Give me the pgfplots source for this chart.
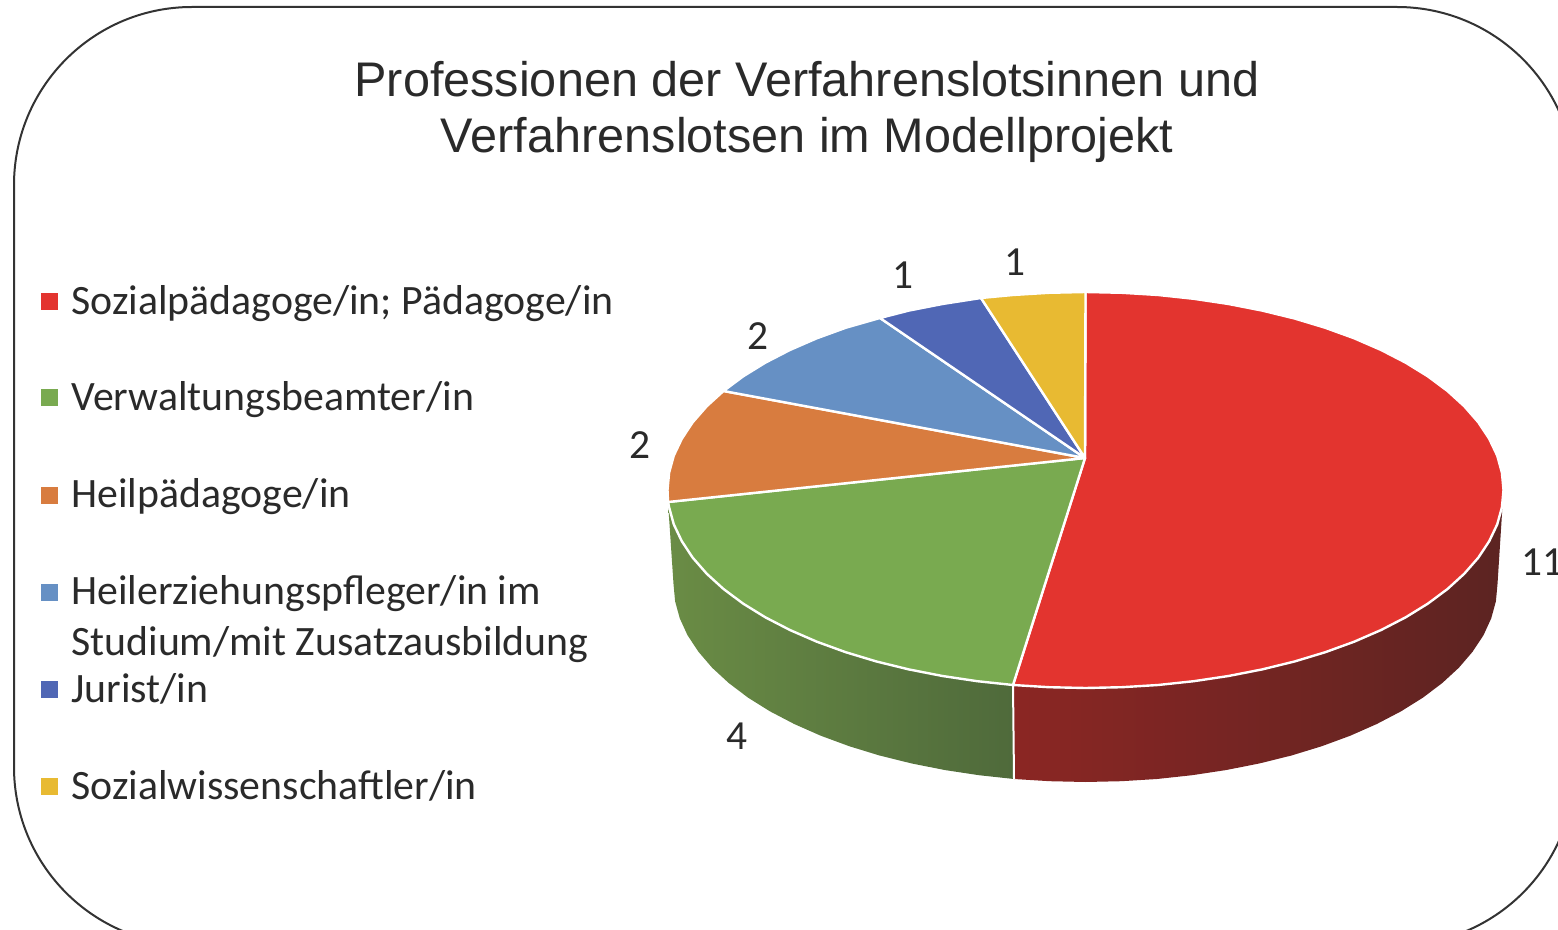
\documentclass[border=0pt]{standalone}
\usepackage{fontspec}
\setmainfont{Liberation Sans}
\newfontfamily\calib{Carlito}
\usepackage{pgfplots}
\pgfplotsset{compat=1.18}

\definecolor{cRed}{HTML}{E3342F}
\definecolor{cGreen}{HTML}{79AA50}
\definecolor{cOrange}{HTML}{D87C3F}
\definecolor{cLBlue}{HTML}{6690C4}
\definecolor{cDBlue}{HTML}{5067B5}
\definecolor{cYellow}{HTML}{E8BA32}
\definecolor{cText}{HTML}{2A2A2A}
\definecolor{wallGa}{RGB}{106,140,69}
\definecolor{wallGb}{RGB}{108,140,72}
\definecolor{wallGc}{RGB}{79,106,59}
\definecolor{wallRa}{RGB}{139,38,35}
\definecolor{wallRb}{RGB}{98,36,35}
\definecolor{wallRc}{RGB}{92,36,34}

% all coordinates are pixels of the reference, 1 px = 0.5 pt
\begin{document}
\begin{tikzpicture}
\begin{axis}[
  scale only axis, width=779pt, height=465pt,
  xmin=0, xmax=1558, ymin=0, ymax=930, y dir=reverse,
  hide axis, clip=true, clip mode=global,
]
% frame, runs off the page at right and bottom
\draw[color=black!80, line width=1pt, rounded corners=89pt]
  (axis cs:14,7) rectangle (axis cs:1575,945);

% side walls
\addplot[draw=none, left color=wallGa, middle color=wallGb, right color=wallGc]
  coordinates {(668,502)(669.1,507.3)(673.8,524.4)(681.8,541.2)(692.7,557.7)(706.7,573.7)(723.5,589)(743.1,603.6)(765.3,617.3)(789.9,630)(816.8,641.7)(845.7,652.2)(876.5,661.5)(908.8,669.4)(942.5,676)(977.3,681.2)(1013,685)
  (1014,779)(978.9,775.2)(944.6,770)(911.4,763.4)(879.5,755.5)(849.2,746.2)(820.7,735.7)(794.2,724)(769.9,711.3)(748,697.6)(728.7,683)(712.1,667.7)(698.4,651.7)(687.5,635.2)(679.8,618.4)(675.1,601.3)(673.5,584)} --cycle;
\addplot[draw=none, left color=wallRa, middle color=wallRb, right color=wallRc]
  coordinates {(1013,685)(1049,687.2)(1085.5,688)(1122,687.2)(1158.1,685)(1193.7,681.2)(1228.5,676)(1262.2,669.4)(1294.5,661.5)(1325.3,652.2)(1354.2,641.7)(1381.1,630)(1405.7,617.3)(1427.9,603.6)(1447.5,589)(1464.3,573.7)(1478.3,557.7)(1489.2,541.2)(1497.2,524.4)(1501.9,507.3)(1503.5,490)
  (1497.5,584)(1495.9,601.3)(1491.2,618.4)(1483.5,635.2)(1472.6,651.7)(1458.9,667.7)(1442.3,683)(1423,697.6)(1401.1,711.3)(1376.8,724)(1350.3,735.7)(1321.8,746.2)(1291.5,755.5)(1259.6,763.4)(1226.4,770)(1192.1,775.2)(1157,779)(1121.4,781.2)(1085.5,782)(1049.6,781.2)(1014,779)} --cycle;
\addplot[white, line width=1pt] coordinates {(1013,685)(1014,779)};

% top slices
\addplot[draw=white, line width=1.2pt, line join=round, fill=cRed]
  coordinates {(1085,458)(1085.5,292)(1122,292.8)(1158.1,295)(1193.7,298.8)(1228.5,304)(1262.2,310.6)(1294.5,318.5)(1325.3,327.8)(1354.2,338.3)(1381.1,350)(1405.7,362.7)(1427.9,376.4)(1447.5,391)(1464.3,406.3)(1478.3,422.3)(1489.2,438.8)(1497.2,455.6)(1501.9,472.7)(1503.5,490)(1501.9,507.3)(1497.2,524.4)(1489.2,541.2)(1478.3,557.7)(1464.3,573.7)(1447.5,589)(1427.9,603.6)(1405.7,617.3)(1381.1,630)(1354.2,641.7)(1325.3,652.2)(1294.5,661.5)(1262.2,669.4)(1228.5,676)(1193.7,681.2)(1158.1,685)(1122,687.2)(1085.5,688)(1049,687.2)(1013,685)} --cycle;
\addplot[draw=white, line width=1.2pt, line join=round, fill=cGreen]
  coordinates {(1085,458)(1013,685)(977.3,681.2)(942.5,676)(908.8,669.4)(876.5,661.5)(845.7,652.2)(816.8,641.7)(789.9,630)(765.3,617.3)(743.1,603.6)(723.5,589)(706.7,573.7)(692.7,557.7)(681.8,541.2)(673.8,524.4)(669.1,507.3)(668,502)} --cycle;
\addplot[draw=white, line width=1.2pt, line join=round, fill=cOrange]
  coordinates {(1085,458)(668,502)(667.5,490)(669.1,472.7)(673.8,455.6)(681.8,438.8)(692.7,422.3)(706.7,406.3)(723.5,391)} --cycle;
\addplot[draw=white, line width=1.2pt, line join=round, fill=cLBlue]
  coordinates {(1085,458)(723.5,391)(743.1,376.4)(765.3,362.7)(789.9,350)(816.8,338.3)(845.7,327.8)(880,318)} --cycle;
\addplot[draw=white, line width=1.2pt, line join=round, fill=cDBlue]
  coordinates {(1085,458)(880,318)(908.8,310.6)(942.5,304)(981,298)} --cycle;
\addplot[draw=white, line width=1.2pt, line join=round, fill=cYellow]
  coordinates {(1085,458)(981,298)(1012.9,295)(1049,292.8)(1085.5,292)} --cycle;

% data labels
\addplot[only marks, mark=none, point meta=explicit symbolic,
  nodes near coords, nodes near coords style={anchor=center, font=\calib\fontsize{20.7}{24}\selectfont, text=cText}]
  table[meta=lab] {
x y lab
1542 562 11
737 736 4
640 445 2
758 336 2
903 275 1
1015 262 1
};

% legend
\addplot[only marks, mark=square*, mark size=4pt, color=cRed, mark options={draw=none}] coordinates {(49,301)};
\addplot[only marks, mark=square*, mark size=4pt, color=cGreen, mark options={draw=none}] coordinates {(49,397.5)};
\addplot[only marks, mark=square*, mark size=4pt, color=cOrange, mark options={draw=none}] coordinates {(49,495)};
\addplot[only marks, mark=square*, mark size=4pt, color=cLBlue, mark options={draw=none}] coordinates {(49,592)};
\addplot[only marks, mark=square*, mark size=4pt, color=cDBlue, mark options={draw=none}] coordinates {(49,689)};
\addplot[only marks, mark=square*, mark size=4pt, color=cYellow, mark options={draw=none}] coordinates {(49,786)};

\begin{scope}[every node/.style={anchor=base west, inner sep=0pt, text=cText, font=\calib\fontsize{20.9}{24}\selectfont}]
\node at (axis cs:71,314.5) {Sozialpädagoge/in; Pädagoge/in};
\node at (axis cs:71,410.5) {Verwaltungsbeamter/in};
\node at (axis cs:71,507.5) {Heilpädagoge/in};
\node at (axis cs:71,604) {Heilerziehungspfleger/in im};
\node at (axis cs:71,655.5) {Studium/mit Zusatzausbildung};
\node at (axis cs:71,702) {Jurist/in};
\node at (axis cs:71,799) {Sozialwissenschaftler/in};
\end{scope}

% title
\node[anchor=base, inner sep=0pt, text=cText, font=\fontsize{24.3}{30}\selectfont] at (axis cs:807,97) {Professionen der Verfahrenslotsinnen und};
\node[anchor=base, inner sep=0pt, text=cText, font=\fontsize{24.3}{30}\selectfont] at (axis cs:807,153) {Verfahrenslotsen im Modellprojekt};
\end{axis}
\pgfresetboundingbox
\useasboundingbox (0,0) rectangle (779pt,465pt);
\end{tikzpicture}
\end{document}
